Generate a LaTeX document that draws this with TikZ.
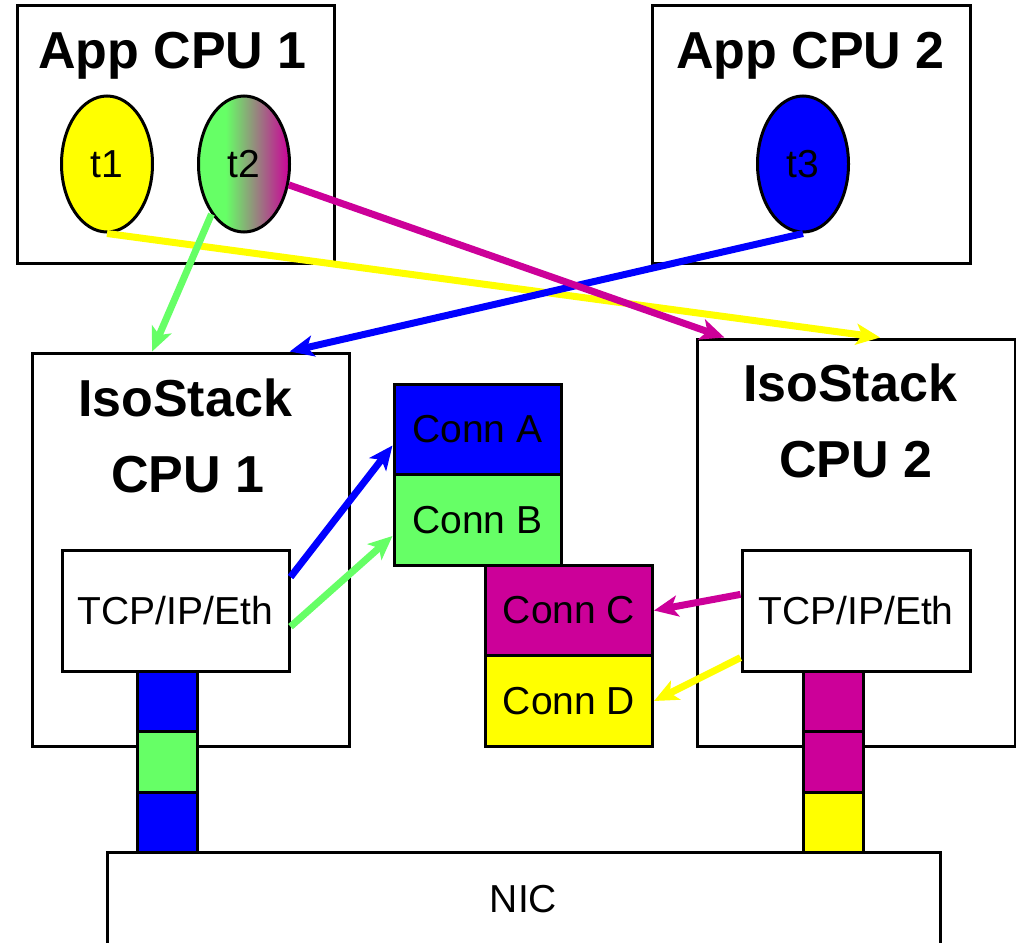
\documentclass[tikz,border=0pt]{standalone}
\usepackage{fontspec}
\setmainfont{Liberation Sans}
\usetikzlibrary{shapes.geometric,arrows.meta,calc}
\definecolor{cblue}{RGB}{0,0,255}
\definecolor{cgreen}{RGB}{102,255,102}
\definecolor{cmag}{RGB}{204,0,153}
\definecolor{cyel}{RGB}{255,255,0}
\pgfdeclarehorizontalshading{tshade}{100bp}{color(0bp)=(cgreen); color(40bp)=(cgreen); color(75bp)=(cmag); color(100bp)=(cmag)}
\begin{document}
\begin{tikzpicture}[x=1pt,y=-1pt,
	box/.style={draw,line width=3pt,inner sep=0},
	head/.style={font=\fontsize{52}{60}\selectfont\bfseries,anchor=base},
	txt/.style={font=\fontsize{39}{44}\selectfont},
	thread/.style={ellipse,draw,line width=3pt,minimum width=91,minimum height=136,inner sep=0,txt},
	conn/.style={box,minimum width=167,minimum height=91,txt},
	pkt/.style={box,minimum width=60,minimum height=60.5},
	flow/.style={line width=7pt,-{Stealth[length=24pt,width=21pt,inset=6pt]}}]
				\useasboundingbox (0,0) rectangle (1016,942);
				% App CPUs
				\node[box,minimum width=317,minimum height=257] (app1) at (175.5,134.5) {};
				\node[head] (app1t) at (172.5,68) {App CPU 1};
				\node[box,minimum width=318,minimum height=257] (app2) at (811,134.5) {};
				\node[head] (app2t) at (810.5,68) {App CPU 2};
				% Threads
				\node[thread,fill=cyel] (t1) at (107,164) {t1};
				\node[thread,shading=tshade] (t2) at (244,164) {t2};
				\node[thread,fill=cblue] (t3) at (803,164) {t3};
				% IsoStack CPUs
				\node[box,minimum width=317,minimum height=393] (iso1) at (190.5,549.5) {};
				\node[head] (iso1a) at (185,416) {IsoStack};
				\node[head] (iso1b) at (188,492) {CPU 1};
				\node[box,minimum width=318,minimum height=407] (iso2) at (856,542.5) {};
				\node[head] (iso2a) at (850,401) {IsoStack};
				\node[head] (iso2b) at (856,477) {CPU 2};
				\node[box,fill=white,minimum width=227,minimum height=121,txt] (tcp1) at (175.5,610.5) {TCP/IP/Eth};
				\node[box,fill=white,minimum width=228,minimum height=121,txt] (tcp2) at (856,610.5) {TCP/IP/Eth};
				% Connections
				\node[conn,fill=cblue] (ca) at (477.5,429.5) {Conn A};
				\node[conn,fill=cgreen] (cb) at (477.5,520) {Conn B};
				\node[conn,fill=cmag] (cc) at (569,610.5) {Conn C};
				\node[conn,fill=cyel] (cd) at (569,701) {Conn D};
				% NIC
				\node[box,minimum width=833,minimum height=94,txt] (nic) at (523.5,899) {NIC};
				% Queues
				\foreach \c [count=\i] in {cblue,cgreen,cblue}
				{\node[pkt,fill=\c] (qa\i) at (167,641+60.5*\i) {};}
				\foreach \c [count=\i] in {cmag,cmag,cyel}
				{\node[pkt,fill=\c] (qb\i) at (833,641+60.5*\i) {};}
				% Flows
				\draw[flow,cyel] (t1.south) -- ($(iso2.north west)!0.575!(iso2.north east)$);
				\draw[flow,cgreen] (t2.-123) -- ($(iso1.north west)!0.38!(iso1.north east)$);
				\draw[flow,cblue] (t3.south) -- ($(iso1.north west)!0.81!(iso1.north east)$);
				\draw[flow,cmag] (t2.-25) -- ($(iso2.north west)!0.09!(iso2.north east)$);
				\draw[flow,cblue] ($(tcp1.north east)!0.23!(tcp1.south east)$) -- ($(ca.north west)!0.67!(ca.south west)$);
				\draw[flow,cgreen] ($(tcp1.north east)!0.63!(tcp1.south east)$) -- ($(cb.north west)!0.67!(cb.south west)$);
				\draw[flow,cmag] ($(tcp2.north west)!0.37!(tcp2.south west)$) -- (cc.east);
				\draw[flow,cyel] ($(tcp2.north west)!0.88!(tcp2.south west)$) -- (cd.east);
			\end{tikzpicture}
\end{document}
